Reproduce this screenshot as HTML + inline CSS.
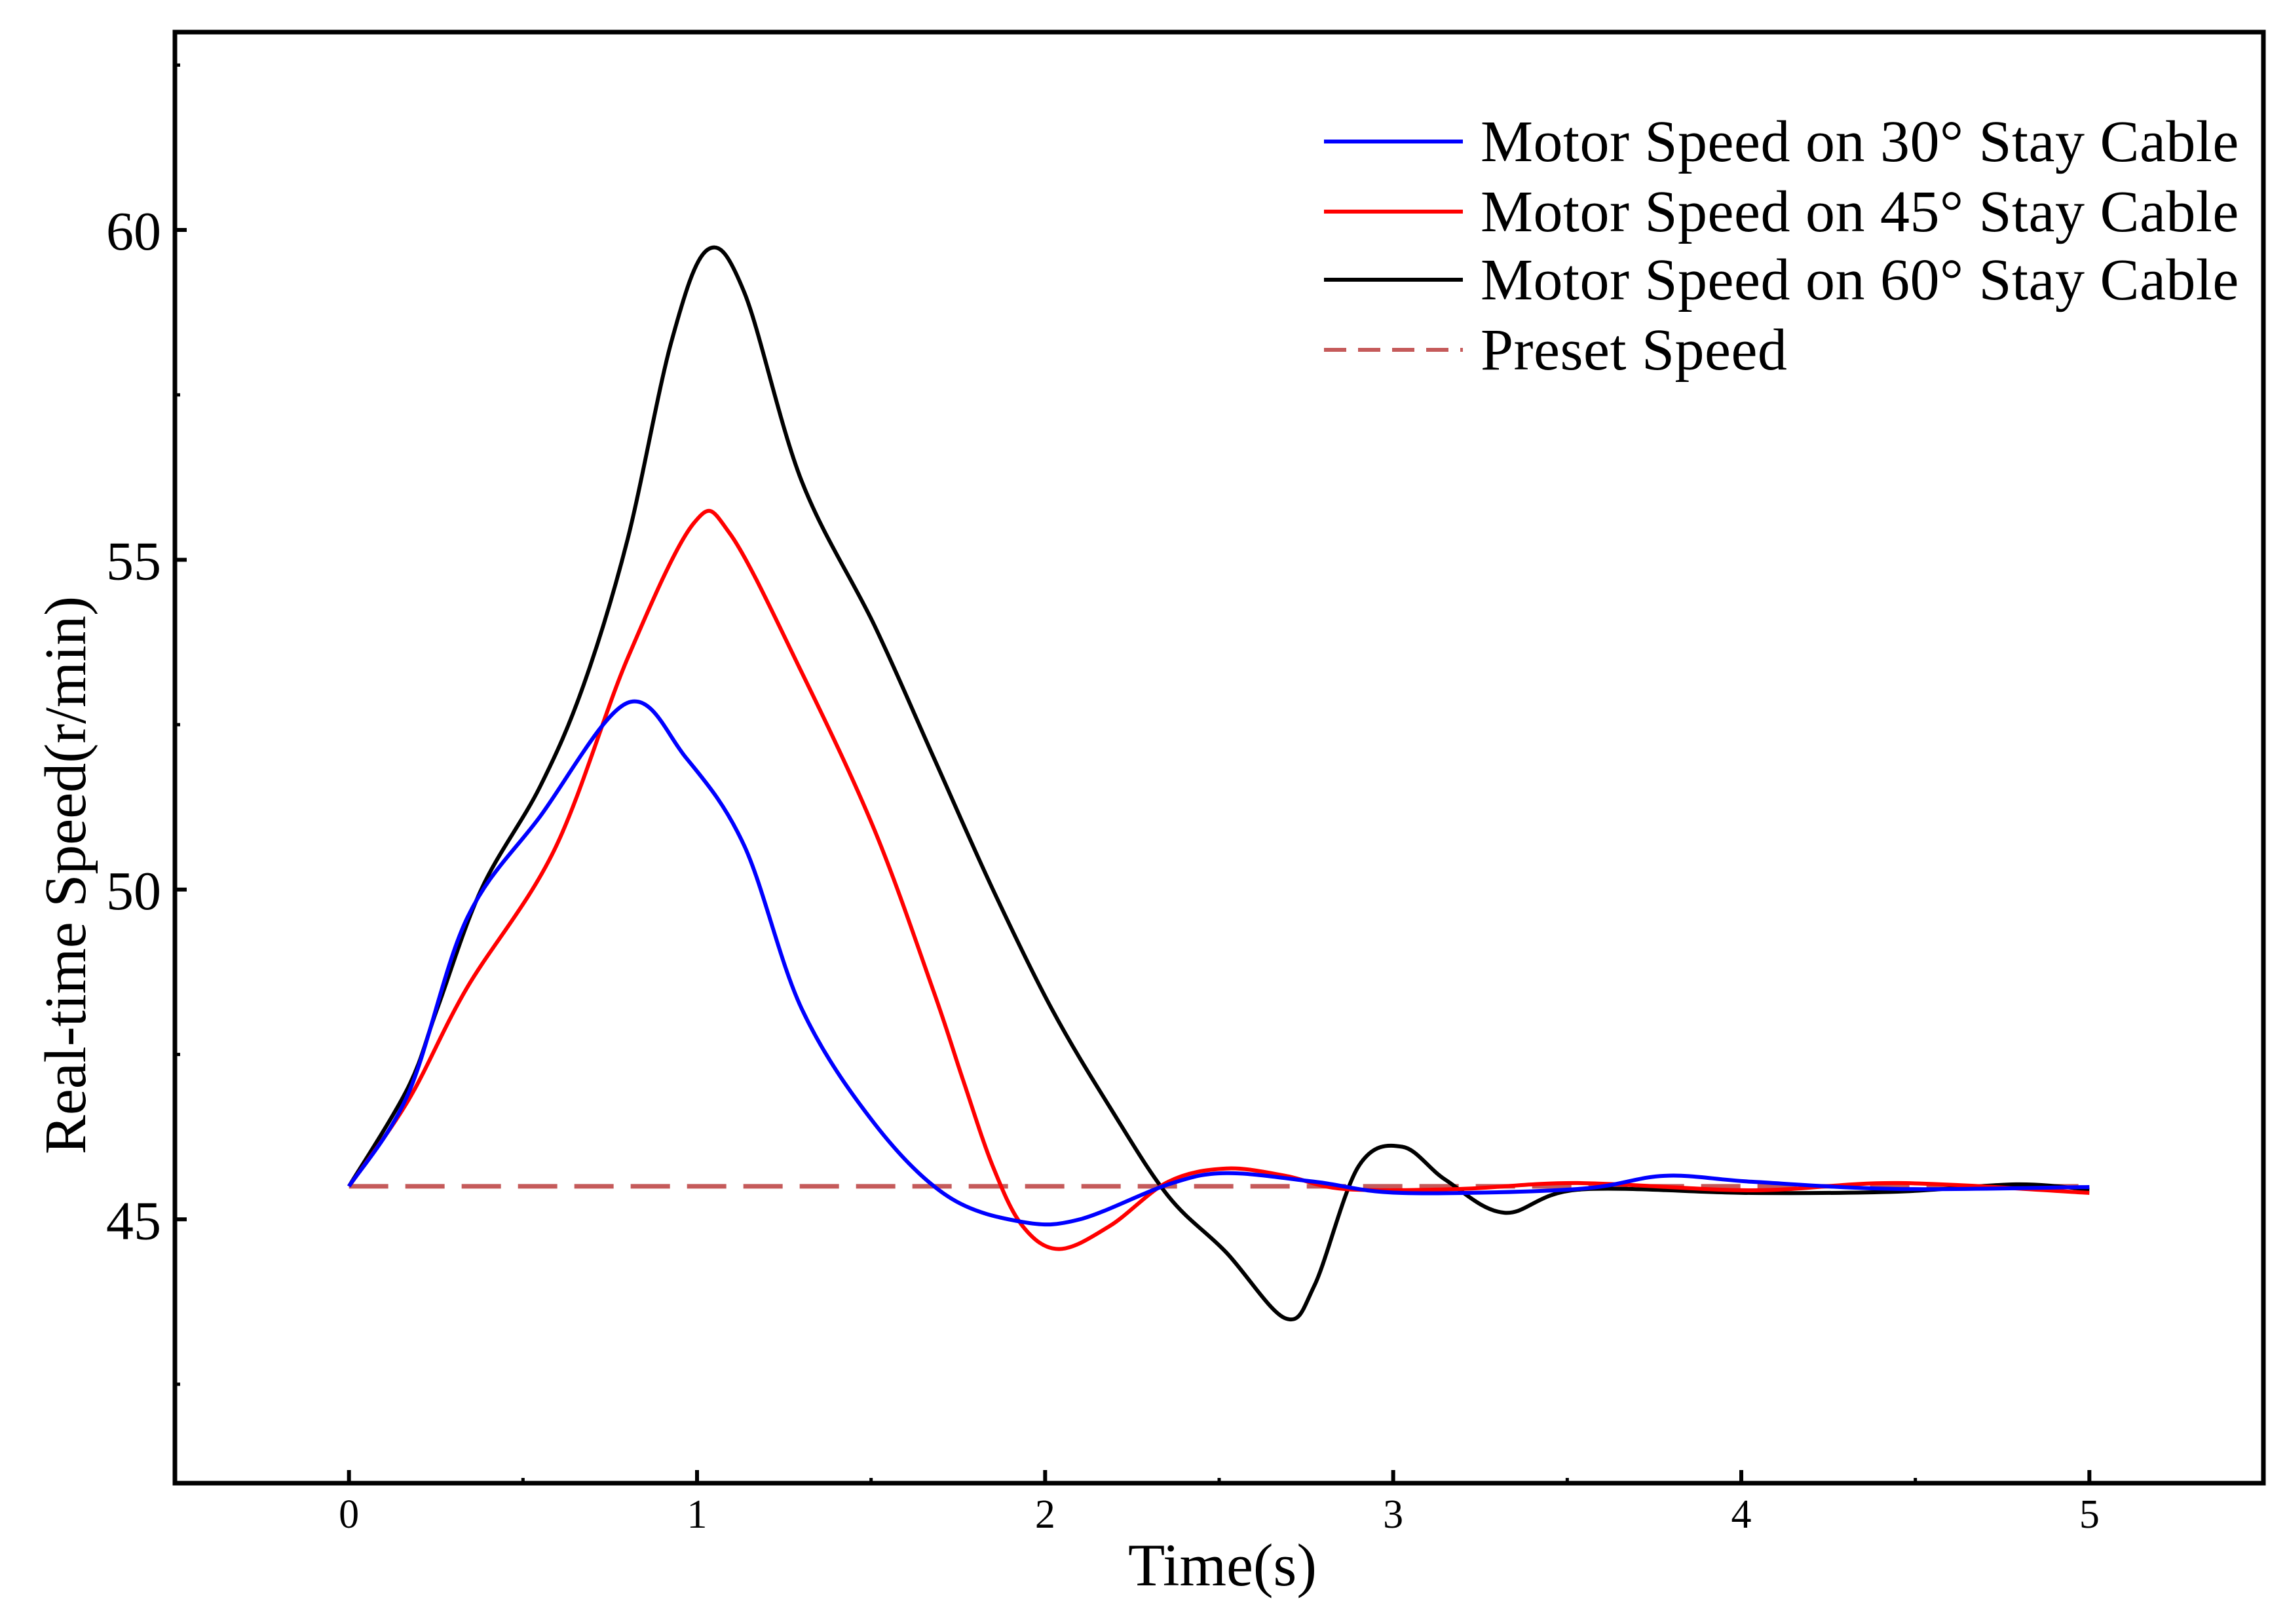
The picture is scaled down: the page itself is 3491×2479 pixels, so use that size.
<!DOCTYPE html>
<html><head><meta charset="utf-8"><style>
html,body{margin:0;padding:0;background:#fff}
svg{display:block}
text{font-family:"Liberation Serif",serif;fill:#000}
</style></head><body>
<svg id="chart" width="3491" height="2479" viewBox="0 0 3491 2479" xmlns="http://www.w3.org/2000/svg">
<rect x="0" y="0" width="3491" height="2479" fill="#fff"/>
<g id="plot"></g>
<g id="axes"></g>
<g id="legend"></g>
</svg>
<script>
const xTicks = [0, 1, 2, 3, 4, 5];
const yTicks = [45, 50, 55, 60];
const presetSpeed = 45.5;
const t30 = [0, 0.17, 0.338, 0.548, 0.80, 0.968, 1.136, 1.30, 1.51, 1.72, 1.935, 2.10, 2.354, 2.52, 2.774, 3.026, 3.53, 3.78, 4.03, 4.45, 5.0];
const v30 = [45.5, 46.9, 49.55, 51.1, 52.83, 52.0, 50.66, 48.2, 46.45, 45.35, 44.96, 45.0, 45.53, 45.7, 45.57, 45.4, 45.46, 45.66, 45.57, 45.46, 45.49];
const t45 = [0, 0.17, 0.338, 0.59, 0.80, 0.99, 1.094, 1.30, 1.51, 1.68, 1.765, 1.85, 1.935, 2.04, 2.186, 2.354, 2.52, 2.69, 2.86, 3.19, 3.53, 4.03, 4.45, 5.0];
const v45 = [45.5, 46.8, 48.5, 50.6, 53.5, 55.55, 55.4, 53.3, 50.9, 48.45, 47.1, 45.8, 44.9, 44.55, 44.9, 45.57, 45.77, 45.66, 45.46, 45.46, 45.55, 45.44, 45.55, 45.4];
const t60 = [0, 0.17, 0.254, 0.38, 0.548, 0.674, 0.80, 0.926, 1.03, 1.136, 1.30, 1.51, 1.68, 1.85, 2.018, 2.186, 2.354, 2.52, 2.69, 2.774, 2.90, 3.026, 3.15, 3.32, 3.53, 4.03, 4.45, 4.79, 5.0];
const v60 = [45.5, 47.0, 48.2, 50.0, 51.55, 53.1, 55.3, 58.3, 59.7, 59.05, 56.2, 54.0, 52.0, 50.0, 48.2, 46.7, 45.35, 44.5, 43.5, 44.0, 45.8, 46.1, 45.6, 45.1, 45.45, 45.4, 45.42, 45.53, 45.45];
const seriesNames = ["Motor Speed on 30\u00b0 Stay Cable", "Motor Speed on 45\u00b0 Stay Cable", "Motor Speed on 60\u00b0 Stay Cable", "Preset Speed"];

const X0 = 267, X1 = 3455, Y0 = 49, Y1 = 2264;
const xMin = -0.5, xMax = 5.5, yMin = 41.0, yMax = 63.0;
function xs(t){ return X0 + (t - xMin) / (xMax - xMin) * (X1 - X0); }
function ys(v){ return Y1 - (v - yMin) / (yMax - yMin) * (Y1 - Y0); }
const NS = "http://www.w3.org/2000/svg";
function mk(tag, attrs, parent){ const e = document.createElementNS(NS, tag); for (const k in attrs) e.setAttribute(k, attrs[k]); parent.appendChild(e); return e; }

function smoothPath(ts, vs){
  const p = ts.map((t,i)=>[xs(t), ys(vs[i])]);
  let d = "M" + p[0][0] + "," + p[0][1];
  for (let i=0;i<p.length-1;i++){
    const p0 = p[i-1]||p[i], p1 = p[i], p2 = p[i+1], p3 = p[i+2]||p2;
    const c1 = [p1[0]+(p2[0]-p0[0])/6, p1[1]+(p2[1]-p0[1])/6];
    const c2 = [p2[0]-(p3[0]-p1[0])/6, p2[1]-(p3[1]-p1[1])/6];
    d += " C"+c1[0]+","+c1[1]+" "+c2[0]+","+c2[1]+" "+p2[0]+","+p2[1];
  }
  return d;
}

const plot = document.getElementById('plot');
const preset = mk('line', {x1: xs(0), x2: xs(5), y1: ys(presetSpeed), y2: ys(presetSpeed), stroke: '#c55a5a', 'stroke-width': 7, 'stroke-dasharray': '60,26'}, plot);


const l60 = mk('path', {d: smoothPath(t60, v60), fill: 'none', stroke: '#000', 'stroke-width': 6}, plot);


const l45 = mk('path', {d: smoothPath(t45, v45), fill: 'none', stroke: '#ff0000', 'stroke-width': 6}, plot);


const l30 = mk('path', {d: smoothPath(t30, v30), fill: 'none', stroke: '#0000ff', 'stroke-width': 6}, plot);



const axes = document.getElementById('axes');
const frame = mk('rect', {x: X0, y: Y0, width: X1-X0, height: Y1-Y0, fill: 'none', stroke: '#000', 'stroke-width': 7}, axes);


xTicks.forEach(t=>{
  const tk = mk('line', {x1: xs(t), x2: xs(t), y1: Y1, y2: Y1-20, stroke: '#000', 'stroke-width': 6}, axes);
  
  
  const lb = mk('text', {x: xs(t), y: 2332, 'font-size': 62, 'text-anchor': 'middle'}, axes);
  lb.textContent = t;
  
  
  if (t < 5) {
    const mt = mk('line', {x1: xs(t+0.5), x2: xs(t+0.5), y1: Y1, y2: Y1-8, stroke: '#000', 'stroke-width': 5}, axes);
    
    
  }
});
yTicks.forEach(v=>{
  const tk = mk('line', {x1: X0, x2: X0+18, y1: ys(v), y2: ys(v), stroke: '#000', 'stroke-width': 6}, axes);
  
  
  const lb = mk('text', {x: 246, y: ys(v)+30, 'font-size': 84, 'text-anchor': 'end'}, axes);
  lb.textContent = v;
  
  
});
[42.5, 47.5, 52.5, 57.5, 62.5].forEach(v=>{
  const mt = mk('line', {x1: X0, x2: X0+8, y1: ys(v), y2: ys(v), stroke: '#000', 'stroke-width': 5}, axes);
  
  
});
const xt = mk('text', {x: 1866, y: 2420, 'font-size': 92, 'text-anchor': 'middle'}, axes);
xt.textContent = 'Time(s)';


const yt = mk('text', {x: 0, y: 0, 'font-size': 90, 'text-anchor': 'middle', transform: 'translate(130,1336) rotate(-90)'}, axes);
yt.textContent = 'Real-time Speed(r/min)';



const legend = document.getElementById('legend');
const lcolors = ['#0000ff', '#ff0000', '#000000', '#c55a5a'];
const lys = [216, 323, 427, 534];
seriesNames.forEach((n,i)=>{
  const ln = mk('line', {x1: 2021, x2: 2233, y1: lys[i], y2: lys[i], stroke: lcolors[i], 'stroke-width': 6}, legend);
  if (i === 3) ln.setAttribute('stroke-dasharray', '34,18');
  
  
  const tx = mk('text', {x: 2260, y: lys[i]+30, 'font-size': 90, 'letter-spacing': 0.5}, legend);
  tx.textContent = n;
  
  
});
</script>
</body></html>
